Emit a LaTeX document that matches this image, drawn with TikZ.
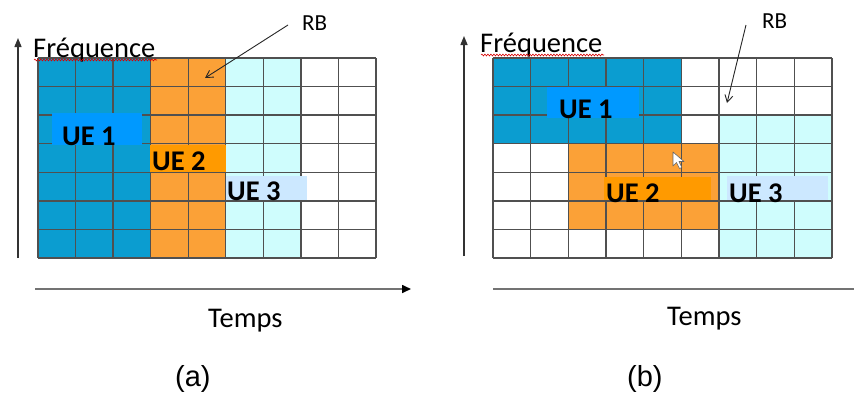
\documentclass[tikz,border=0pt]{standalone}
\usepackage{fontspec}
\setmainfont{Carlito}
\newfontfamily\arialf{Liberation Sans}
\usetikzlibrary{arrows.meta,decorations.pathmorphing}
\definecolor{cblue}{HTML}{0B9DD0}
\definecolor{corange}{HTML}{FBA137}
\definecolor{ccyan}{HTML}{CFFDFD}
\definecolor{lblue}{HTML}{0099FF}
\definecolor{lorange}{HTML}{FF9A00}
\definecolor{lcyan}{HTML}{CCE8FF}
\definecolor{gridc}{HTML}{505050}
\begin{document}
\begin{tikzpicture}[x=1pt,y=-1pt,
  txt/.style={anchor=base west,inner sep=0pt,font=\fontsize{28.5}{30}\selectfont},
  uetxt/.style={anchor=base west,inner sep=0pt,font=\bfseries\fontsize{28.5}{30}\selectfont},
  rbtxt/.style={anchor=base west,inner sep=0pt,font=\fontsize{23}{25}\selectfont},
  captxt/.style={anchor=base west,inner sep=0pt,font=\arialf\fontsize{29}{31}\selectfont},
  gridline/.style={draw=gridc,line width=1.3pt},
  axis/.style={draw=black!80,line width=1.4pt,-{Triangle[length=9pt,width=7pt]}},
  haxis/.style={draw=black!55,line width=1.6pt},
  rbarrow/.style={draw=black!85,line width=0.9pt,-{Straight Barb[length=7pt,width=8pt]}},
  wavy/.style={draw=red!85!black,line width=0.6pt,decorate,decoration={snake,amplitude=0.9pt,segment length=3pt}}]
\useasboundingbox (0,0) rectangle (854,394);
\fill[white] (0,0) rectangle (854,394);
% ---------------- (a) ----------------
\fill[cblue] (38,58) rectangle (151,258);
\fill[corange] (151,58) rectangle (226,258);
\fill[ccyan] (226,58) rectangle (301,258);
\foreach \i in {0,...,9} \draw[gridline] ({38+\i*37.56},58) -- ({38+\i*37.56},258);
\foreach \j in {0,...,7} \draw[gridline] (38,{58+\j*28.57}) -- (376,{58+\j*28.57});
\fill[lblue] (52,113) rectangle (142,145);
\fill[lorange] (150,145) rectangle (226,172);
\fill[lcyan] (226,176) rectangle (307,200);
\node[uetxt] (ue1a) at (62,145) {UE 1};
\node[uetxt] (ue2a) at (152,170) {UE 2};
\node[uetxt] (ue3a) at (227,200) {UE 3};
\coordinate (vAa) at (18,258); \coordinate (vBa) at (18,38);
\draw[axis] (vAa) -- (vBa);
\coordinate (hAa) at (35,289); \coordinate (hBa) at (411,289);
\draw[haxis,-{Triangle[length=9pt,width=8pt,color=black]}] (hAa) -- (hBa);
\node[txt] (freqa) at (33,57) {Fréquence};
\draw[wavy] (34,60) -- (157,60);
\node[rbtxt] (rba) at (302,30) {RB};
\coordinate (rbta) at (205,78);
\draw[rbarrow] (288,25) -- (rbta);
\node[txt] (tempsa) at (208,327) {Temps};
\node[captxt] (capa) at (175,386) {(a)};
% ---------------- (b) ----------------
\fill[cblue] (493,58) rectangle (682,144);
\fill[corange] (569,144) rectangle (718,229);
\fill[ccyan] (718,116) rectangle (832,258);
\foreach \i in {0,...,9} \draw[gridline] ({493+\i*37.67},58) -- ({493+\i*37.67},258);
\foreach \j in {0,...,7} \draw[gridline] (493,{58+\j*28.57}) -- (832,{58+\j*28.57});
\fill[lblue] (547,87) rectangle (639,118);
\fill[lorange] (604,177) rectangle (711,200);
\fill[lcyan] (727,176) rectangle (828,200);
\node[uetxt] (ue1b) at (559,118) {UE 1};
\node[uetxt] (ue2b) at (606,202) {UE 2};
\node[uetxt] (ue3b) at (729,202) {UE 3};
\coordinate (vAb) at (464,256); \coordinate (vBb) at (464,36);
\draw[axis] (vAb) -- (vBb);
\coordinate (hAb) at (493,289); \coordinate (hBb) at (854,289);
\draw[haxis] (hAb) -- (hBb);
\node[txt] (freqb) at (480,52) {Fréquence};
\draw[wavy] (481,55) -- (604,55);
\node[rbtxt] (rbb) at (762,28) {RB};
\coordinate (rbtb) at (727,103);
\draw[rbarrow] (746,25) -- (rbtb);
\node[txt] (tempsb) at (667,325) {Temps};
\node[captxt] (capb) at (627,386) {(b)};
% cursor
\draw[fill=white,draw=black!60,line width=0.6pt,line join=round]
  (673,152) -- (673,166) -- (676.5,162.5) -- (679.5,168.5) -- (681.8,167.5) -- (679,161.5) -- (684,161.5) -- cycle;
\end{tikzpicture}
\end{document}
